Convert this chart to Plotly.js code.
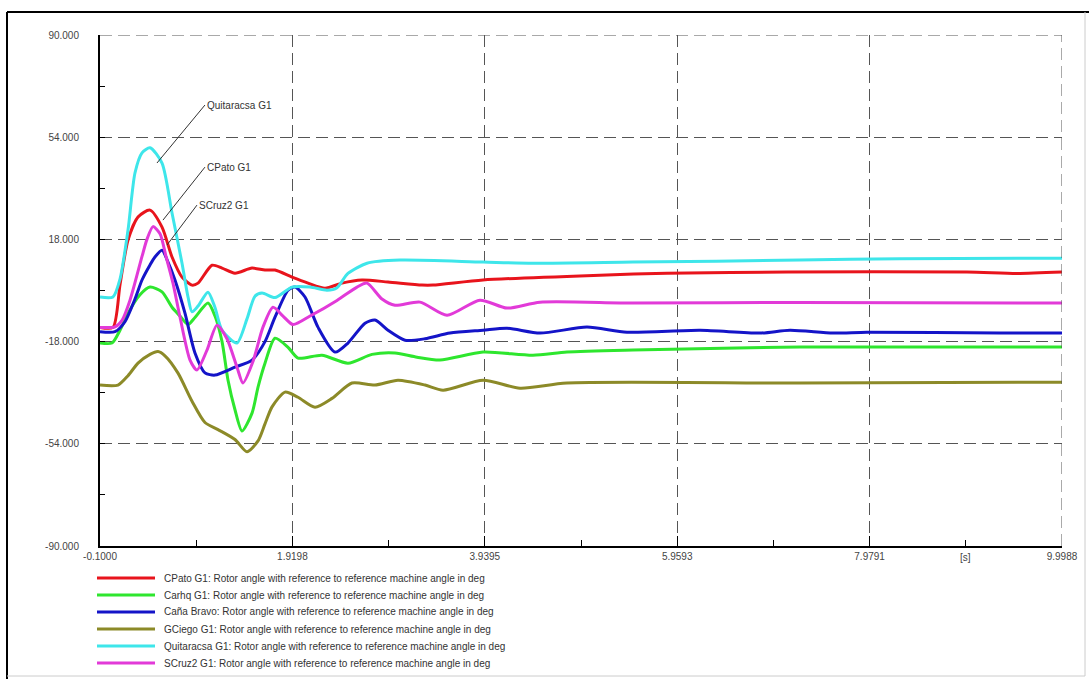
<!DOCTYPE html>
<html>
<head>
<meta charset="utf-8">
<script src="https://cdn.plot.ly/plotly-3.0.1.min.js"></script>
<style>html,body{margin:0;padding:0;background:#fff;}#chart{width:1089px;height:679px;}</style>
</head>
<body>
<div id="chart"></div>
<script>
// ---- data (time in s, rotor angle in deg) ----
const seriesNames = [
  "CPato G1: Rotor angle with reference to reference machine angle in deg",
  "Carhq G1: Rotor angle with reference to reference machine angle in deg",
  "Caña Bravo: Rotor angle with reference to reference machine angle in deg",
  "GCiego G1: Rotor angle with reference to reference machine angle in deg",
  "Quitaracsa G1: Rotor angle with reference to reference machine angle in deg",
  "SCruz2 G1: Rotor angle with reference to reference machine angle in deg"
];
const seriesColors = ["#e8141c", "#2ee62e", "#1414c8", "#8c8a28", "#3ee6ea", "#e23ad8"];

const cpatoT = [-0.1, 0.036, 0.110, 0.194, 0.299, 0.425, 0.551, 0.656, 0.761, 0.866, 0.929, 1.076, 1.181, 1.317, 1.496, 1.632, 1.737, 1.916, 2.084, 2.262, 2.440, 2.650, 2.923, 3.280, 3.396, 3.921, 5.149, 5.852, 7.112, 9.001, 9.526, 9.9988];
const cpatoV = [-13, -13, 2, 17.8, 25.9, 28.3, 22.3, 11.8, 4.7, 1.9, 2.6, 8.9, 7.9, 6.1, 7.9, 7.2, 7.2, 4.7, 2.6, 0.8, 2.6, 3.7, 3.0, 1.9, 1.9, 3.7, 5.4, 6.1, 6.5, 6.5, 6.0, 6.5];

const carhqT = [-0.1, 0.026, 0.110, 0.194, 0.320, 0.425, 0.551, 0.656, 0.740, 0.824, 0.897, 1.034, 1.107, 1.181, 1.244, 1.317, 1.391, 1.496, 1.559, 1.632, 1.737, 1.874, 1.979, 2.230, 2.503, 2.755, 2.997, 3.228, 3.469, 3.921, 4.445, 4.802, 5.495, 7.248, 9.9988];
const carhqV = [-18.5, -18.5, -14, -8, -1.5, 1.2, -0.5, -5.9, -9, -12, -9.5, -4.4, -9, -18, -31.6, -42, -49.5, -43.2, -34, -25.6, -16.8, -20, -23.8, -22.8, -25.6, -22.5, -22, -23.5, -24.5, -21.7, -22.8, -21.7, -21, -19.9, -19.9];

const canaT = [-0.1, 0.057, 0.162, 0.267, 0.341, 0.425, 0.477, 0.551, 0.614, 0.687, 0.792, 0.897, 1.002, 1.107, 1.317, 1.496, 1.632, 1.737, 1.874, 1.947, 2.052, 2.188, 2.367, 2.503, 2.682, 2.787, 2.923, 3.102, 3.312, 3.574, 3.921, 4.173, 4.519, 5.012, 5.432, 6.199, 6.828, 7.143, 7.595, 7.952, 9.348, 9.9988];
const canaV = [-14.5, -14.5, -11, -3, 3.7, 9, 11.8, 14.2, 10, 3.7, -8, -22, -29, -29.8, -27, -24.5, -18, -9.4, 0.1, 1.2, -2.3, -12.9, -21.7, -18.5, -11.5, -10.4, -14, -17.5, -17, -15, -14, -13.3, -15, -12.9, -14.7, -14, -15, -14, -15, -14.7, -15, -15];

const gciegoT = [-0.1, 0.089, 0.194, 0.299, 0.425, 0.509, 0.582, 0.719, 0.866, 1.002, 1.139, 1.317, 1.443, 1.559, 1.632, 1.706, 1.842, 1.979, 2.157, 2.335, 2.545, 2.787, 3.028, 3.312, 3.501, 3.921, 4.309, 4.802, 7.248, 9.9988];
const gciegoV = [-33.3, -33.3, -30, -25.6, -22.5, -21.5, -23, -29.1, -39, -46.5, -49, -52.5, -56.8, -53, -47, -41, -35.8, -37.6, -41.1, -38, -32.6, -33.3, -31.6, -33.3, -35.1, -31.6, -34.4, -32.6, -32.6, -32.3];

const quitaT = [-0.1, 0.036, 0.110, 0.194, 0.267, 0.341, 0.425, 0.551, 0.656, 0.761, 0.824, 0.866, 0.929, 1.034, 1.107, 1.181, 1.338, 1.443, 1.527, 1.601, 1.737, 1.916, 2.105, 2.283, 2.388, 2.503, 2.703, 3.049, 3.921, 4.445, 5.495, 7.248, 8.298, 9.9988];
const quitaV = [-2.3, -2.3, 4, 21.3, 41.4, 48.5, 50.3, 44.9, 27.3, 9.6, -2.3, -7.5, -5.5, -0.6, -6, -14, -18.5, -10, -2, -0.9, -2.5, 1.2, 1.2, 0.1, 1.0, 6.0, 9.6, 10.7, 10.0, 9.6, 10.0, 10.7, 11.2, 11.4];

const scruzT = [-0.1, 0.057, 0.131, 0.215, 0.341, 0.393, 0.456, 0.530, 0.593, 0.666, 0.740, 0.845, 0.918, 1.023, 1.128, 1.233, 1.338, 1.401, 1.506, 1.611, 1.716, 1.821, 1.926, 2.105, 2.388, 2.598, 2.703, 2.860, 2.997, 3.259, 3.543, 3.888, 4.173, 4.519, 5.495, 7.248, 9.9988];
const scruzV = [-13, -12.8, -10.5, -3.4, 12, 18, 22.5, 20, 12, 2.6, -9.4, -24.5, -28, -21, -12.2, -17, -27, -32.6, -25, -12.9, -5.9, -9, -12, -9, -3.5, 1.2, 2.6, -3, -5.2, -4.1, -8.7, -3.4, -6.2, -4.1, -4.4, -4.2, -4.4];

const xTickVals = [-0.1, 1.9198, 3.9395, 5.9593, 7.9791, 9.9988];
const xTickText = ["-0.1000", "1.9198", "3.9395", "5.9593", "7.9791", "9.9988"];
const xMinorVals = [0.9099, 2.9297, 4.9494, 6.9692, 8.9890];
const yTickVals = [90, 54, 18, -18, -54, -90];
const yTickText = ["90.000", "54.000", "18.000", "-18.000", "-54.000", "-90.000"];
const yMinorVals = [72, 36, 0, -36, -72];

const labelNames = ["Quitaracsa G1", "CPato G1", "SCruz2 G1"];
const labelPointT = [0.498, 0.561, 0.603];
const labelPointV = [44.9, 24.8, 16.0];

// ---- build ----
const allT = [cpatoT, carhqT, canaT, gciegoT, quitaT, scruzT];
const allV = [cpatoV, carhqV, canaV, gciegoV, quitaV, scruzV];
const traces = allT.map((t, i) => ({
  type: "scatter", mode: "lines",
  x: t, y: allV[i],
  name: seriesNames[i],
  showlegend: false,
  line: {color: seriesColors[i], width: 3, shape: "spline", smoothing: 0.7}
}));

const font = {family: "Liberation Sans, Arial, sans-serif", size: 10, color: "#444"};
const gridDash = "12px,6px";

const px = v => (v - 100) / 962;
const py = v => (546 - v) / 511;

const labelOffsets = [[48, -58], [42, -53], [30, -40]];
const annotations = labelNames.map((n, i) => ({
  x: labelPointT[i], y: labelPointV[i], xref: "x", yref: "y",
  text: n, showarrow: true, arrowhead: 0, arrowwidth: 1, arrowcolor: "#333",
  ax: labelOffsets[i][0], ay: labelOffsets[i][1], xanchor: "left", yanchor: "middle",
  font: {family: font.family, size: 10, color: "#333"}
}));
annotations.push({
  x: xMinorVals[4], y: py(557), xref: "x", yref: "paper", text: "[s]",
  showarrow: false, xanchor: "center", yanchor: "middle", font: font
});

const shapes = [
  // frame around the whole picture
  {type: "line", xref: "paper", yref: "paper", x0: px(7), x1: px(7), y0: py(12), y1: py(679), line: {color: "#000", width: 2}},
  {type: "line", xref: "paper", yref: "paper", x0: px(7), x1: px(1089), y0: py(12), y1: py(12), line: {color: "#000", width: 2}},
  {type: "line", xref: "paper", yref: "paper", x0: px(1085), x1: px(1085), y0: py(12), y1: py(676), line: {color: "#ccc", width: 1}},
  {type: "line", xref: "paper", yref: "paper", x0: px(7), x1: px(1085), y0: py(676), y1: py(676), line: {color: "#ccc", width: 1}},
  // dashed grid lines on the top and right edges of the plot
  {type: "line", xref: "paper", yref: "y", x0: 0, x1: 1, y0: yTickVals[0], y1: yTickVals[0], line: {color: "#555", width: 1, dash: gridDash}},
  {type: "line", xref: "x", yref: "paper", x0: xTickVals[5], x1: xTickVals[5], y0: 0, y1: 1, line: {color: "#555", width: 1, dash: gridDash}}
];

// legend below the plot: one row per series
seriesNames.forEach((n, i) => {
  const rowY = py(578 + i * 17);
  shapes.push({type: "line", xref: "paper", yref: "paper", x0: px(97), x1: px(155), y0: rowY, y1: rowY,
    line: {color: seriesColors[i], width: 3}});
  annotations.push({x: px(162), y: rowY, xref: "paper", yref: "paper", text: n, showarrow: false,
    xanchor: "left", yanchor: "middle", font: {family: font.family, size: 10, color: "#333"}});
});

const layout = {
  width: 1089, height: 679,
  margin: {l: 100, r: 27, t: 35, b: 133, autoexpand: false},
  paper_bgcolor: "#fff", plot_bgcolor: "#fff",
  font: font,
  showlegend: false,
  xaxis: {
    range: [-0.1, 9.9988], tickmode: "array", tickvals: xTickVals, ticktext: xTickText,
    showgrid: true, gridcolor: "#555", gridwidth: 1, griddash: gridDash,
    showline: true, linecolor: "#000", linewidth: 2, mirror: false,
    ticks: "inside", ticklen: 10, tickcolor: "#000", tickwidth: 1,
    minor: {tickmode: "array", tickvals: xMinorVals, ticks: "inside", ticklen: 6, tickcolor: "#000", showgrid: false},
    zeroline: false, tickfont: font
  },
  yaxis: {
    range: [-90, 90], tickmode: "array", tickvals: yTickVals, ticktext: yTickText,
    showgrid: true, gridcolor: "#555", gridwidth: 1, griddash: gridDash,
    showline: true, linecolor: "#000", linewidth: 2, mirror: false,
    ticks: "inside", ticklen: 5, tickcolor: "#000",
    minor: {tickmode: "array", tickvals: yMinorVals, ticks: "inside", ticklen: 5, tickcolor: "#000", showgrid: false},
    zeroline: false, tickfont: font, ticklabelstandoff: 17
  },
  annotations: annotations,
  shapes: shapes
};

Plotly.newPlot("chart", traces, layout, {displayModeBar: false, staticPlot: true});
</script>
</body>
</html>
